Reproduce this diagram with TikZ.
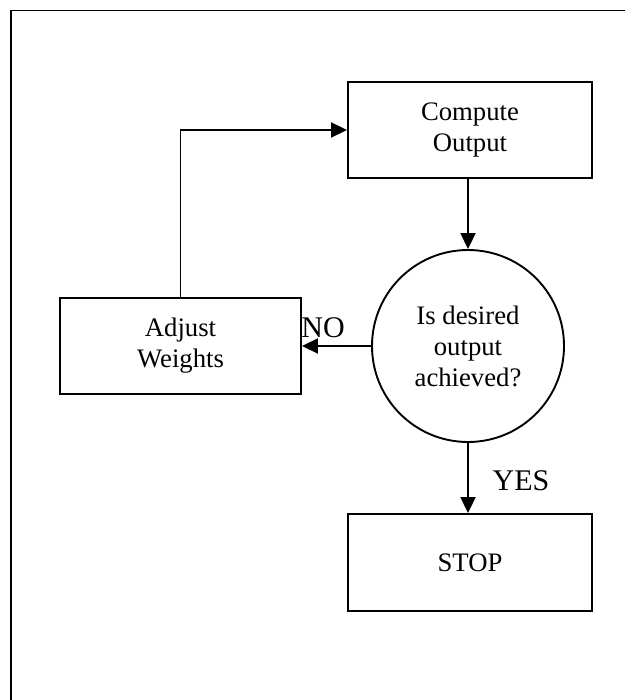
\documentclass[tikz,border=0pt]{standalone}
\usepackage{fontspec}
\setmainfont{Liberation Serif}
\usetikzlibrary{arrows.meta}
\begin{document}
\begin{tikzpicture}[x=1pt,y=-1pt,
  boxtext/.style={font=\fontsize{26.7}{31}\selectfont, align=center},
  procbox/.style={draw, line width=1.9pt, rectangle, boxtext, inner sep=0pt},
  decision/.style={draw, line width=1.9pt, circle, boxtext, inner sep=0pt, minimum size=192pt},
  arr/.style={line width=1.9pt, -{Triangle[length=16pt,width=15pt]}},
  lbl/.style={font=\fontsize{30}{34}\selectfont, inner sep=0pt},
  frame/.style={line width=1.9pt}]
\useasboundingbox (0,0) rectangle (624,700);
\draw[frame] (11,705) -- (11,10.5) -- (630,10.5);
\node[procbox, minimum width=244pt, minimum height=96pt] (comp) at (470,130) {Compute\\Output};
\node[decision] (dec) at (468,346) {Is desired\\output\\achieved?};
\node[procbox, minimum width=241pt, minimum height=96pt] (adj) at (180.5,346) {Adjust\\Weights};
\node[procbox, minimum width=244pt, minimum height=97pt] (stop) at (470,562.5) {STOP};
\node[lbl] (no) at (323,328) {NO};
\node[lbl] (yes) at (521,481) {YES};
\draw[arr] (dec.north |- comp.south) -- (dec.north);
\draw[arr] (dec.west) -- (adj.east);
\draw[arr] (dec.south) -- (dec.south |- stop.north);
\draw[arr] (adj.north) -- (adj.north |- comp.west) -- (comp.west);
\end{tikzpicture}
\end{document}
